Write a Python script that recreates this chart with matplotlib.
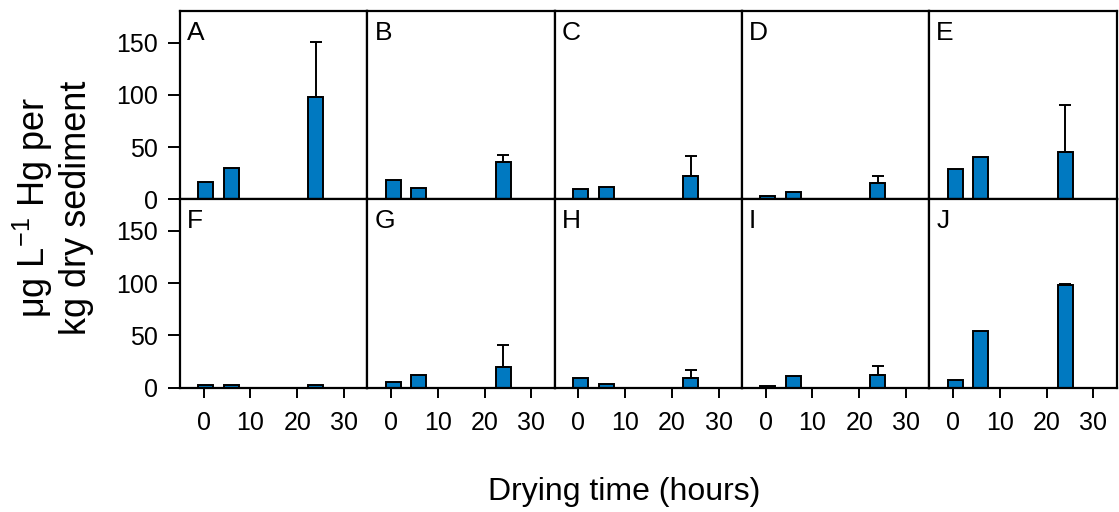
import numpy as np
import matplotlib
matplotlib.use('Agg')
import matplotlib.pyplot as plt

# drying times (hours) and per-panel means / upper errors
times = [0.5, 6, 24]
panels = ['A', 'B', 'C', 'D', 'E', 'F', 'G', 'H', 'I', 'J']

means = {
    'A': [17, 30, 98],
    'B': [18.5, 10.5, 36],
    'C': [9.6, 11.5, 22.3],
    'D': [2.9, 6.7, 16],
    'E': [29, 41, 45.5],
    'F': [2.2, 2.9, 2.9],
    'G': [5.4, 11.7, 19.7],
    'H': [8.9, 3.2, 8.9],
    'I': [1.6, 11.5, 11.7],
    'J': [7.6, 54, 98.4],
}
errors = {
    'A': [0, 0, 53],
    'B': [0, 0, 6.5],
    'C': [0, 0, 19.5],
    'D': [0, 0, 6.7],
    'E': [0, 0, 44.7],
    'F': [0, 0, 0],
    'G': [0, 0, 20.7],
    'H': [0, 0, 8.3],
    'I': [0, 0, 8.9],
    'J': [0, 0, 0.8],
}

bar_color = '#0079C1'
plt.rcParams['font.family'] = ['Liberation Sans', 'DejaVu Sans']
plt.rcParams['mathtext.fontset'] = 'custom'
plt.rcParams['mathtext.rm'] = 'Liberation Sans'
plt.rcParams['mathtext.it'] = 'Liberation Sans:italic'

fig, axes = plt.subplots(2, 5, figsize=(11.19, 5.12), dpi=100, sharex=True, sharey=True)
fig.subplots_adjust(left=0.161, right=0.998, top=0.978, bottom=0.243, wspace=0, hspace=0)

for i, name in enumerate(panels):
    ax = axes[i // 5, i % 5]
    m = np.array(means[name])
    e = np.array(errors[name])
    ax.bar(times, m, width=3.2, color=bar_color, edgecolor='black', linewidth=1.4, zorder=2)
    has_err = e > 0
    ax.errorbar(np.array(times)[has_err], m[has_err],
                yerr=[np.zeros(has_err.sum()), e[has_err]],
                fmt='none', ecolor='black', elinewidth=1.4, capsize=4, capthick=1.4, zorder=3)
    ax.text(0.037, 0.95, name, transform=ax.transAxes, fontsize=19, va='top', ha='left')
    ax.set_xlim(-5, 35)
    ax.set_ylim(0, 180)
    for s in ax.spines.values():
        s.set_linewidth(1.6)
    ax.set_xticks([0, 10, 20, 30])
    ax.set_yticks([0, 50, 100, 150])
    ax.tick_params(direction='out', width=1.4, labelsize=18)
    ax.tick_params(axis='y', length=9, pad=7)
    ax.tick_params(axis='x', length=7, pad=10)
    if i % 5 != 0:
        ax.tick_params(axis='y', left=False)
    if i // 5 == 0:
        ax.tick_params(axis='x', bottom=False)

fig.text(0.047, 0.595, 'μg L$^{-1}$ Hg per\nkg dry sediment', rotation=90,
         ha='center', va='center', fontsize=26, linespacing=1.15)
fig.text(0.558, 0.039, 'Drying time (hours)', ha='center', va='center', fontsize=23)

plt.savefig('out.png', dpi=100)
